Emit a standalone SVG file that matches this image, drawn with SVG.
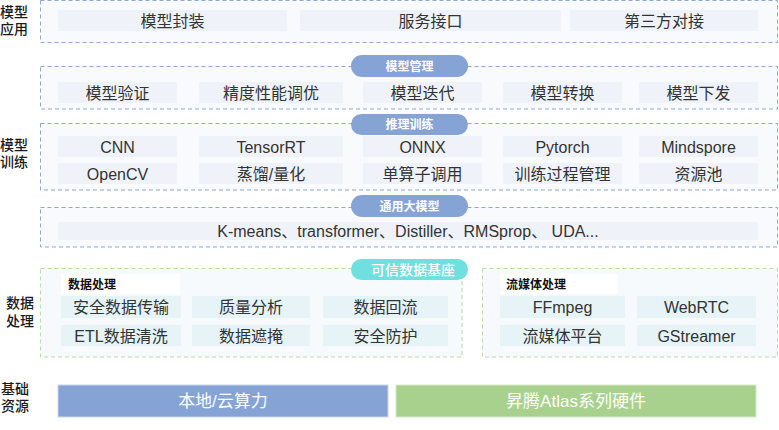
<svg xmlns="http://www.w3.org/2000/svg" width="779" height="430" viewBox="0 0 779 430">
<style>
text{font-family:"Liberation Sans","Noto Sans CJK SC",sans-serif;}
.lbl{font-size:14px;fill:#1a1a1a;font-weight:500;text-anchor:middle;}
.box{fill:#f9fafd;stroke:#8ea7d3;stroke-width:1;stroke-dasharray:4 3;}
.gbox{fill:#f6fafc;stroke:#b9dea5;stroke-width:1;stroke-dasharray:4 3;}
.cell{fill:#eff3f9;}
.dcell{fill:#e6f4f8;}
.ct{font-size:16px;fill:#333;text-anchor:middle;}
.pill{fill:#86a3d6;}
.pt{font-size:12px;fill:#fff;font-weight:bold;text-anchor:middle;}
.hdr{fill:#fff;}
.ht{font-size:12px;fill:#111;font-weight:bold;}
</style>
<rect width="779" height="430" fill="#fff"/>
<g id="labels">
<text class="lbl" x="14" y="17">模型</text><text class="lbl" x="14" y="34">应用</text>
<text class="lbl" x="14" y="150">模型</text><text class="lbl" x="14" y="167">训练</text>
<text class="lbl" x="20" y="308">数据</text><text class="lbl" x="20" y="326">处理</text>
<text class="lbl" x="15" y="394">基础</text><text class="lbl" x="15" y="411">资源</text>
</g>
<g id="app">
<rect class="box" x="40.5" y="0.5" width="737" height="42"/>
<rect class="cell" x="58" y="10" width="229" height="21"/><text class="ct" x="172.5" y="26.5">模型封装</text>
<rect class="cell" x="300" y="10" width="261" height="21"/><text class="ct" x="430.5" y="26.5">服务接口</text>
<rect class="cell" x="570" y="10" width="188" height="21"/><text class="ct" x="664" y="26.5">第三方对接</text>
</g>
<g id="mgmt">
<rect class="box" x="40.5" y="66.5" width="737" height="42.5"/>
<rect class="cell" x="58" y="82" width="119" height="21"/><text class="ct" x="117.5" y="98.5">模型验证</text>
<rect class="cell" x="199" y="82" width="144" height="21"/><text class="ct" x="271" y="98.5">精度性能调优</text>
<rect class="cell" x="363" y="82" width="119" height="21"/><text class="ct" x="422.5" y="98.5">模型迭代</text>
<rect class="cell" x="503" y="82" width="119" height="21"/><text class="ct" x="562.5" y="98.5">模型转换</text>
<rect class="cell" x="639" y="82" width="119" height="21"/><text class="ct" x="698.5" y="98.5">模型下发</text>
<rect class="pill" x="351" y="55" width="117" height="22" rx="11"/><text class="pt" x="409.5" y="70.5">模型管理</text>
</g>
<g id="train">
<rect class="box" x="40.5" y="123.5" width="737" height="66.5"/>
<rect class="cell" x="58" y="136" width="119" height="21"/><text class="ct" x="117.5" y="152.5">CNN</text>
<rect class="cell" x="199" y="136" width="144" height="21"/><text class="ct" x="271" y="152.5">TensorRT</text>
<rect class="cell" x="363" y="136" width="119" height="21"/><text class="ct" x="422.5" y="152.5">ONNX</text>
<rect class="cell" x="503" y="136" width="119" height="21"/><text class="ct" x="562.5" y="152.5">Pytorch</text>
<rect class="cell" x="639" y="136" width="119" height="21"/><text class="ct" x="698.5" y="152.5">Mindspore</text>
<rect class="cell" x="58" y="163" width="119" height="21"/><text class="ct" x="117.5" y="179.5">OpenCV</text>
<rect class="cell" x="199" y="163" width="144" height="21"/><text class="ct" x="271" y="179.5">蒸馏/量化</text>
<rect class="cell" x="363" y="163" width="119" height="21"/><text class="ct" x="422.5" y="179.5">单算子调用</text>
<rect class="cell" x="503" y="163" width="119" height="21"/><text class="ct" x="562.5" y="179.5">训练过程管理</text>
<rect class="cell" x="639" y="163" width="119" height="21"/><text class="ct" x="698.5" y="179.5">资源池</text>
<rect class="pill" x="351" y="114" width="117" height="21" rx="10.5"/><text class="pt" x="409.5" y="129">推理训练</text>
</g>
<g id="bigmodel">
<rect class="box" x="40.5" y="207.5" width="737" height="39.5"/>
<rect class="cell" x="58" y="222" width="700" height="18"/><text class="ct" x="408" y="237">K-means、transformer、Distiller、RMSprop、 UDA...</text>
<rect class="pill" x="351" y="195" width="117" height="22" rx="11"/><text class="pt" x="409.5" y="210.5">通用大模型</text>
</g>
<g id="data">
<rect class="gbox" x="40.5" y="268.5" width="421.5" height="88.5"/>
<rect class="hdr" x="61" y="274" width="119" height="20"/><text class="ht" x="68" y="289">数据处理</text>
<rect class="dcell" x="61" y="296" width="120" height="22"/><text class="ct" x="121" y="313">安全数据传输</text>
<rect class="dcell" x="192" y="296" width="118" height="22"/><text class="ct" x="251" y="313">质量分析</text>
<rect class="dcell" x="323" y="296" width="125" height="22"/><text class="ct" x="385.5" y="313">数据回流</text>
<rect class="dcell" x="61" y="325" width="120" height="21"/><text class="ct" x="121" y="341.5">ETL数据清洗</text>
<rect class="dcell" x="192" y="325" width="118" height="21"/><text class="ct" x="251" y="341.5">数据遮掩</text>
<rect class="dcell" x="323" y="325" width="125" height="21"/><text class="ct" x="385.5" y="341.5">安全防护</text>
<rect x="351" y="259" width="117" height="21" rx="10.5" fill="#6fdfdf"/><text x="413" y="275" font-size="14" fill="#fff" font-weight="500" text-anchor="middle">可信数据基座</text>
</g>
<g id="stream">
<rect class="gbox" x="482.5" y="268.5" width="295" height="88.5"/>
<rect class="hdr" x="500" y="274" width="118" height="20"/><text class="ht" x="506" y="289">流媒体处理</text>
<rect class="dcell" x="500" y="296" width="125" height="22"/><text class="ct" x="562.5" y="313">FFmpeg</text>
<rect class="dcell" x="637" y="296" width="119" height="22"/><text class="ct" x="696.5" y="313">WebRTC</text>
<rect class="dcell" x="500" y="325" width="125" height="21"/><text class="ct" x="562.5" y="341.5">流媒体平台</text>
<rect class="dcell" x="637" y="325" width="119" height="21"/><text class="ct" x="696.5" y="341.5">GStreamer</text>
</g>
<g id="infra">
<rect x="58" y="385" width="330" height="32" fill="#86a3d6" stroke="#c9d6ee" stroke-width="1"/>
<text x="223" y="407" font-size="17" fill="#fff" text-anchor="middle">本地/云算力</text>
<rect x="396" y="385" width="360" height="32" fill="#a9d18e" stroke="#d6ebc8" stroke-width="1"/>
<text x="576" y="407" font-size="17" fill="#fff" text-anchor="middle">昇腾Atlas系列硬件</text>
</g>
<g id="connectors"></g>
</svg>
